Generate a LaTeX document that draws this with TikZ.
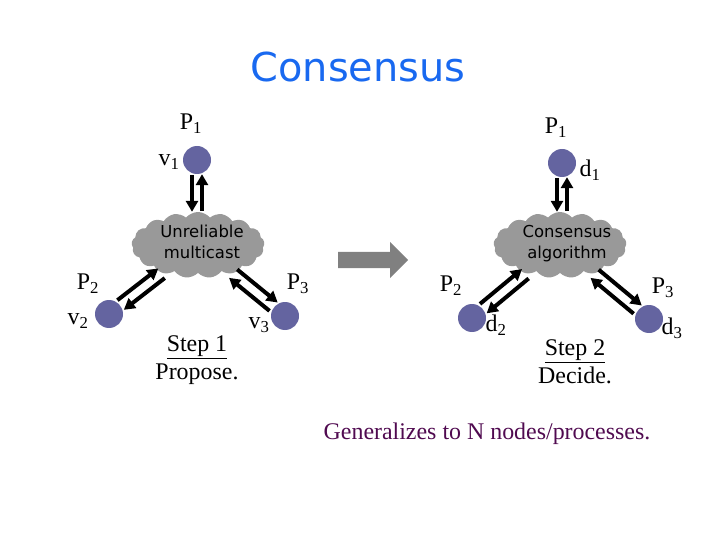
\documentclass[tikz,border=0pt]{standalone}
\usepackage{fontspec}
\setmainfont{Liberation Serif}
\newfontfamily\handfont{DejaVu Sans}
\usetikzlibrary{arrows.meta,shapes.symbols}
\definecolor{procblue}{RGB}{100,100,160}
\definecolor{cloudgray}{RGB}{153,153,153}
\definecolor{arrowgray}{RGB}{128,128,128}
\definecolor{titleblue}{RGB}{25,105,240}
\definecolor{notepurple}{RGB}{80,10,80}

\begin{document}
\begin{tikzpicture}[x=1bp, y=-1bp,
	proc/.style={circle, fill=procblue, minimum size=28bp, inner sep=0pt},
	net/.style={cloud, cloud puffs=17, cloud puff arc=100, cloud ignores aspect, fill=cloudgray, minimum width=133bp, minimum height=66bp, inner sep=0pt},
	nettext/.style={align=center, inner sep=0pt, font=\handfont\fontsize{16.5}{21}\selectfont},
	lbl/.style={inner sep=0pt, font=\fontsize{24}{28}\selectfont},
	msg/.style={line width=4bp, -{Triangle[length=11bp,width=12bp]}, shorten <=1bp, shorten >=0bp}]

	\useasboundingbox (0,0) rectangle (720,540);

	\node[font=\handfont\fontsize{40}{44}\selectfont, text=titleblue] (title) at (358,67) {Consensus};

	% step 1
	\node[net] (cl1) at (198,245) {};
	\node[nettext] (cl1t) at (202,242) {Unreliable\\multicast};
	\node[proc] (v1) at (197,160) {};
	\node[proc] (v2) at (109,314) {};
	\node[proc] (v3) at (285,316) {};
	\node[lbl] (p1a) at (191,124) {P\textsubscript{1}};
	\node[lbl] (v1l) at (169,162) {v\textsubscript{1}};
	\node[lbl] (p2a) at (88,284) {P\textsubscript{2}};
	\node[lbl] (v2l) at (78,321) {v\textsubscript{2}};
	\node[lbl] (p3a) at (298,284) {P\textsubscript{3}};
	\node[lbl] (v3l) at (259,325) {v\textsubscript{3}};
	\node[lbl, align=center] (step1) at (197,360) {\underline{Step 1}\\Propose.};

	\draw[msg] ([xshift=-5bp]v1.south) -- ([xshift=-5bp]v1.south |- cl1.north);
	\draw[msg] ([xshift=5bp]v1.south |- cl1.north) -- ([xshift=5bp]v1.south);
	\draw[msg, transform canvas={shift={(-3.6,-4.5)}}] (v2) -- (cl1);
	\draw[msg, transform canvas={shift={(3.6,4.5)}}] (cl1) -- (v2);
	\draw[msg, transform canvas={shift={(3.7,-4.5)}}] (cl1) -- (v3);
	\draw[msg, transform canvas={shift={(-3.7,4.5)}}] (v3) -- (cl1);

	% big arrow
	\fill[arrowgray] (338,252) -- (390,252) -- (390,242) -- (408,260) -- (390,278) -- (390,268) -- (338,268) -- cycle;

	% step 2
	\node[net] (cl2) at (560,245) {};
	\node[nettext] (cl2t) at (567,244) {Consensus\\algorithm};
	\node[proc] (d1) at (562,163) {};
	\node[proc] (d2) at (472,318) {};
	\node[proc] (d3) at (649,319) {};
	\node[lbl] (p1b) at (556,128) {P\textsubscript{1}};
	\node[lbl] (d1l) at (590,170) {d\textsubscript{1}};
	\node[lbl] (p2b) at (451,286) {P\textsubscript{2}};
	\node[lbl] (d2l) at (496,325) {d\textsubscript{2}};
	\node[lbl] (p3b) at (663,288) {P\textsubscript{3}};
	\node[lbl] (d3l) at (672,328) {d\textsubscript{3}};
	\node[lbl, align=center] (step2) at (575,362) {\underline{Step 2}\\Decide.};

	\draw[msg] ([xshift=-5bp]d1.south) -- ([xshift=-5bp]d1.south |- cl2.north);
	\draw[msg] ([xshift=5bp]d1.south |- cl2.north) -- ([xshift=5bp]d1.south);
	\draw[msg, transform canvas={shift={(-3.7,-4.4)}}] (d2) -- (cl2);
	\draw[msg, transform canvas={shift={(3.7,4.4)}}] (cl2) -- (d2);
	\draw[msg, transform canvas={shift={(3.7,-4.4)}}] (cl2) -- (d3);
	\draw[msg, transform canvas={shift={(-3.7,4.4)}}] (d3) -- (cl2);

	\node[lbl, text=notepurple] (note) at (487,434) {Generalizes to N nodes/processes.};

\end{tikzpicture}
\end{document}
